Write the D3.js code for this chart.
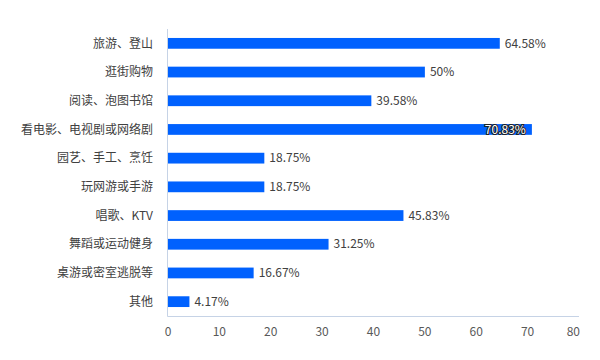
<!DOCTYPE html>
<html><head><meta charset="utf-8">
<script src="https://cdn.jsdelivr.net/npm/d3@7"></script>
<style>
html,body{margin:0;padding:0;background:#fff;}
svg{display:block;font-family:"Noto Sans CJK SC","Microsoft YaHei",sans-serif;}
</style></head>
<body><svg id="c" width="600" height="360"></svg>
<script>
const categories = ["旅游、登山","逛街购物","阅读、泡图书馆","看电影、电视剧或网络剧","园艺、手工、烹饪","玩网游或手游","唱歌、KTV","舞蹈或运动健身","桌游或密室逃脱等","其他"];
const values = [64.58, 50, 39.58, 70.83, 18.75, 18.75, 45.83, 31.25, 16.67, 4.17];
const valueLabels = ["64.58%","50%","39.58%","70.83%","18.75%","18.75%","45.83%","31.25%","16.67%","4.17%"];
const xTicks = [0,10,20,30,40,50,60,70,80];

(function(){
const svg = d3.select("#c");
const mLeft = 168, mRight = 579, mTop = 29, mBottom = 316;
const x = d3.scaleLinear().domain([0,80]).range([mLeft,mRight]);
const y = d3.scaleBand().domain(categories).range([mTop,mBottom]).paddingInner(0.625).paddingOuter(0.3125);

// bars
svg.append("g").selectAll("rect").data(values).join("rect")
  .attr("x", x(0))
  .attr("y", (d,i)=>y(categories[i]))
  .attr("width", d=>x(d)-x(0))
  .attr("height", y.bandwidth())
  .attr("fill", "#0061fe");

// axes lines
svg.append("line").attr("x1",mLeft-0.5).attr("x2",mLeft-0.5).attr("y1",mTop).attr("y2",mBottom+0.5)
  .attr("stroke","#c6d3e6").attr("stroke-width",1);
svg.append("line").attr("x1",mLeft-0.5).attr("x2",mRight).attr("y1",mBottom+0.5).attr("y2",mBottom+0.5)
  .attr("stroke","#c6d3e6").attr("stroke-width",1);

// category labels
svg.append("g").selectAll("text").data(categories).join("text")
  .attr("x", 153)
  .attr("y", d=>y(d)+y.bandwidth()/2)
  .attr("dy","0.35em")
  .attr("text-anchor","end")
  .attr("font-size",12)
  .attr("fill","#404040")
  .text(d=>d);

// x tick labels
svg.append("g").selectAll("text").data(xTicks).join("text")
  .attr("x", (d,i)=> i===xTicks.length-1 ? x(d)+1 : x(d))
  .attr("y", 332)
  .attr("dy","0.35em")
  .attr("text-anchor",(d,i)=> i===xTicks.length-1 ? "end" : "middle")
  .attr("font-size",12)
  .attr("fill","#595959")
  .text(d=>d);

// value labels
const maxIdx = values.indexOf(d3.max(values));
svg.append("g").selectAll("text").data(values).join("text")
  .attr("x", (d,i)=> i===maxIdx ? x(d)-6 : x(d)+5)
  .attr("y", (d,i)=>y(categories[i])+y.bandwidth()/2)
  .attr("dy","0.35em")
  .attr("text-anchor",(d,i)=> i===maxIdx ? "end" : "start")
  .attr("font-size",12)
  .attr("fill",(d,i)=> i===maxIdx ? "#fff" : "#404040")
  .attr("stroke",(d,i)=> i===maxIdx ? "#222" : "none")
  .attr("stroke-width",2)
  .attr("paint-order","stroke")
  .text((d,i)=>valueLabels[i]);
})();
</script></body></html>
